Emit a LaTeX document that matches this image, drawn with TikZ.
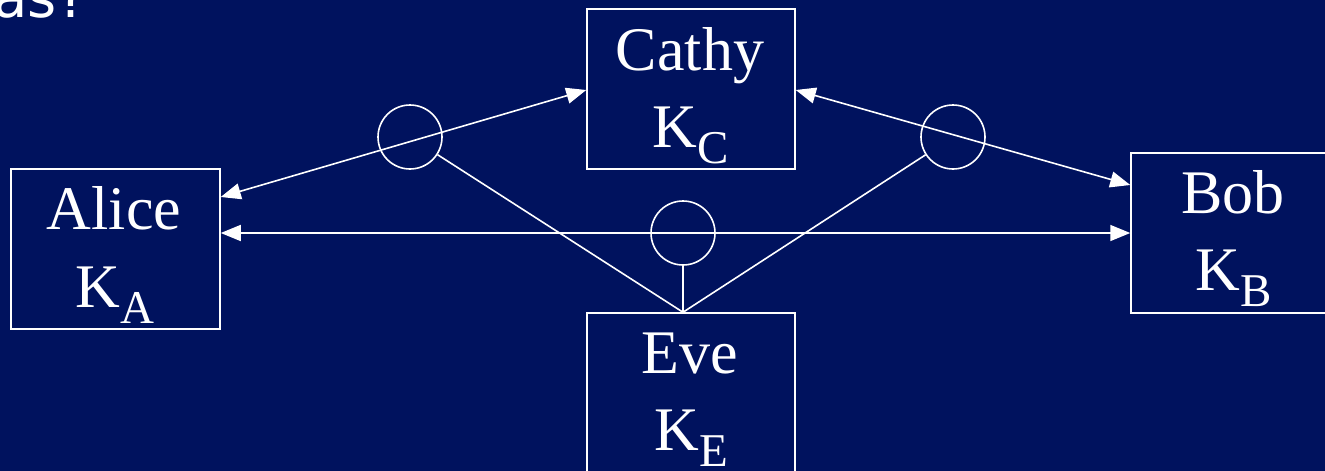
\documentclass[tikz,border=0pt]{standalone}
\usepackage{fontspec}
\setmainfont{Liberation Serif}
\newfontfamily\headfont{DejaVu Sans}
\usetikzlibrary{arrows.meta}
\definecolor{bgnavy}{RGB}{0,18,94}
\newcommand{\kname}[2]{K\raisebox{-16pt}{\fontsize{47}{47}\selectfont #1}}
\tikzset{
  party/.style={draw=white, line width=1.5pt, minimum width=#1, minimum height=160pt, inner sep=0pt},
  tap/.style={circle, draw=white, line width=1.6pt, minimum size=64pt, inner sep=0pt},
  lbl/.style={text=white, font=\fontsize{62}{62}\selectfont, anchor=base, inner sep=0pt},
  link/.style={white, line width=1.6pt},
  chan/.style={link, {Triangle[length=20pt,width=16pt]}-{Triangle[length=20pt,width=16pt]}}
}
\begin{document}
\begin{tikzpicture}[x=1pt,y=-1pt]
\useasboundingbox (0,0) rectangle (1325,471);
\fill[bgnavy] (0,0) rectangle (1325,471);
\clip (0,0) rectangle (1325,471);
% title fragment
\node[text=white, font=\headfont\fontsize{56}{56}\selectfont, anchor=base east, inner sep=0pt] (title) at (87,17) {as?};
% boxes
\node[party=209pt] (alice) at (115.5,249) {};
\node[party=208pt] (cathy) at (691,89) {};
\node[party=205pt] (bob) at (1233.5,233) {};
\node[party=208pt, minimum height=167pt] (eve) at (691,396.5) {};
% labels
\node[lbl] (aliceN) at (114,229) {Alice};
\node[lbl] (aliceK) at (115,307) {\kname{A}{}};
\node[lbl] (cathyN) at (690,70) {Cathy};
\node[lbl] (cathyK) at (691,147) {\kname{C}{}};
\node[lbl] (bobN) at (1233,213) {Bob};
\node[lbl] (bobK) at (1234,290) {\kname{B}{}};
\node[lbl] (eveN) at (690,373) {Eve};
\node[lbl] (eveK) at (691.5,450) {\kname{E}{}};
% taps
\node[tap] (c1) at (410,137) {};
\node[tap] (c2) at (953,137) {};
\node[tap] (c3) at (683,233) {};
\coordinate (evetop) at ([xshift=-8pt]eve.north);
% channels
\draw[chan] ([yshift=52pt]alice.east) -- ([yshift=-1pt]cathy.west);
\draw[chan] ([yshift=-1pt]cathy.east) -- ([yshift=48pt]bob.west);
\draw[chan] (alice.east |- bob.west) -- (bob.west);
% eavesdropping lines
\draw[link] (c1) -- (evetop);
\draw[link] (c2) -- (evetop);
\draw[link] (c3.south) -- (evetop);
\end{tikzpicture}
\end{document}
